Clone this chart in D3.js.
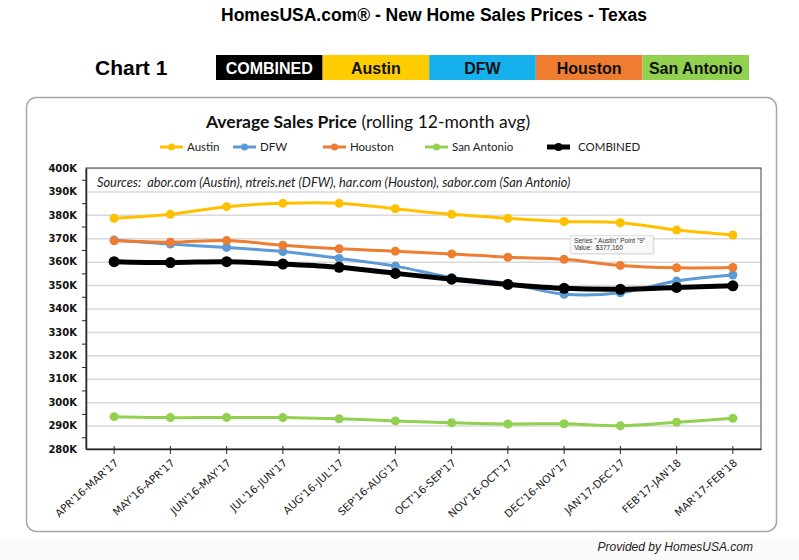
<!DOCTYPE html>
<html lang="en">
<head>
    <meta charset="UTF-8">
    <title>HomesUSA.com - New Home Sales Prices - Texas</title>
    <script src="https://d3js.org/d3.v7.min.js"></script>
    <style>
        body { margin: 0; background: #fff; }
        svg { display: block; }
        .grid line { stroke: #d9d9d9; stroke-width: 1.5; }
        .grid path { display: none; }
        .axis path, .axis line { stroke: #262626; }
        .y-labels text { font: bold 10px "DejaVu Sans", Verdana, sans-serif; fill: #111; }
        .x-labels text { font: 10.5px "DejaVu Sans", Verdana, sans-serif; fill: #222; }
        .legend text { font: 11.5px Lato, "Open Sans", sans-serif; fill: #222; }
        .series path { fill: none; }
    </style>
</head>
<body>
<svg width="799" height="560"></svg>
<script>
    const categories = ["APR'16-MAR'17", "MAY'16-APR'17", "JUN'16-MAY'17", "JUL'16-JUN'17",
        "AUG'16-JUL'17", "SEP'16-AUG'17", "OCT'16-SEP'17", "NOV'16-OCT'17",
        "DEC'16-NOV'17", "JAN'17-DEC'17", "FEB'17-JAN'18", "MAR'17-FEB'18"];

    const austin     = [378500, 380200, 383500, 384900, 384900, 382600, 380200, 378500, 377160, 376600, 373500, 371400];
    const dfw        = [369200, 367500, 366100, 364300, 361400, 358100, 353200, 350700, 346100, 346700, 351700, 354300];
    const houston    = [368900, 368300, 369000, 367000, 365500, 364500, 363300, 361900, 361000, 358400, 357400, 357500];
    const sanAntonio = [293800, 293400, 293500, 293400, 292900, 292000, 291200, 290700, 290800, 289900, 291400, 293100];
    const combined   = [360000, 359600, 360000, 359000, 357600, 355000, 352500, 350300, 348600, 348200, 349000, 349700];

    const yTicks = d3.range(280000, 400001, 10000);
    const yMinorTicks = d3.range(285000, 400000, 10000);

    const seriesNames = ["Austin", "DFW", "Houston", "San Antonio", "COMBINED"];
    const seriesData = [austin, dfw, houston, sanAntonio, combined];
    const lineColors = ["#ffc000", "#5b9bd5", "#ed7d31", "#92d050", "#000000"];

    // header strip
    const stripNames = ["COMBINED", "Austin", "DFW", "Houston", "San Antonio"];
    const stripColors = ["#000000", "#ffcc00", "#16b0ec", "#ee7d31", "#92d050"];
    const stripText = ["#ffffff", "#111111", "#111111", "#111111", "#111111"];

    const svg = d3.select("svg");

    svg.append("rect")
        .attr("x", 0).attr("y", 538).attr("width", 799).attr("height", 22)
        .attr("fill", "#fafafa");

    svg.append("text")
        .attr("x", 434).attr("y", 21)
        .attr("text-anchor", "middle")
        .style("font", "bold 17.5px 'Liberation Sans', Arial, sans-serif")
        .text("HomesUSA.com® - New Home Sales Prices - Texas");

    svg.append("text")
        .attr("x", 95).attr("y", 75)
        .style("font", "bold 21px 'Liberation Sans', Arial, sans-serif")
        .text("Chart 1");

    const strip = d3.scaleBand().domain(stripNames).range([216, 749]);

    const cells = svg.append("g").selectAll("g")
        .data(stripNames)
        .join("g")
        .attr("transform", d => `translate(${strip(d)},55)`);

    cells.append("rect")
        .attr("width", strip.bandwidth())
        .attr("height", 25)
        .attr("fill", (d, i) => stripColors[i]);

    cells.append("text")
        .attr("x", strip.bandwidth() / 2)
        .attr("y", 19)
        .attr("text-anchor", "middle")
        .attr("fill", (d, i) => stripText[i])
        .style("font", "bold 16px 'Liberation Sans', Arial, sans-serif")
        .text(d => d);

    // chart frame
    svg.append("rect")
        .attr("x", 26.5).attr("y", 97.5)
        .attr("width", 750).attr("height", 434)
        .attr("rx", 10)
        .attr("fill", "#fff")
        .attr("stroke", "#a6a6a6")
        .attr("stroke-width", 1.5);

    const title = svg.append("text")
        .attr("x", 368).attr("y", 128)
        .attr("text-anchor", "middle")
        .style("font", "17.5px Lato, 'Open Sans', sans-serif")
        .attr("fill", "#111");
    title.append("tspan").attr("font-weight", "bold").text("Average Sales Price");
    title.append("tspan").text(" (rolling 12-month avg)");

    // plot area
    const plotLeft = 86, plotRight = 761, plotTop = 168, plotBottom = 449;

    const x = d3.scaleBand().domain(categories).range([plotLeft, plotRight]);
    const y = d3.scaleLinear().domain([280000, 400000]).range([plotBottom, plotTop]);
    const cx = d => x(d) + x.bandwidth() / 2;

    svg.append("g")
        .attr("class", "grid")
        .attr("transform", `translate(${plotLeft},0)`)
        .call(d3.axisLeft(y).tickValues(yTicks.slice(1)).tickSize(-(plotRight - plotLeft)).tickFormat(""));

    svg.append("rect")
        .attr("x", plotLeft).attr("y", plotTop)
        .attr("width", plotRight - plotLeft).attr("height", plotBottom - plotTop)
        .attr("fill", "none")
        .attr("stroke", "#404040")
        .attr("stroke-width", 1);

    svg.append("g")
        .attr("class", "axis y-labels")
        .attr("transform", `translate(${plotLeft},0)`)
        .call(d3.axisLeft(y).tickValues(yTicks).tickSize(0).tickPadding(9)
            .tickFormat(d => d / 1000 + "K"))
        .call(g => g.select(".domain").attr("stroke-width", 1.5));

    svg.append("g")
        .attr("class", "axis")
        .attr("transform", `translate(${plotLeft},0)`)
        .call(d3.axisLeft(y).tickValues(yMinorTicks).tickSize(4).tickSizeOuter(0).tickFormat(""))
        .call(g => g.select(".domain").remove());

    const xAxis = svg.append("g")
        .attr("class", "axis x-labels")
        .attr("transform", `translate(0,${plotBottom})`)
        .call(d3.axisBottom(x).tickSize(5).tickSizeOuter(0).tickPadding(4))
        .call(g => g.select(".domain").attr("stroke-width", 1.5));
    xAxis.selectAll(".tick line").attr("y1", -3);
    xAxis.selectAll(".tick text")
        .attr("text-anchor", "end")
        .attr("dy", 0)
        .attr("transform", "translate(-1,8) rotate(-42)");

    svg.append("text")
        .attr("x", 97).attr("y", 187)
        .style("font", "italic 12.8px Lato, 'Open Sans', sans-serif")
        .attr("fill", "#222")
        .attr("xml:space", "preserve")
        .text("Sources:  abor.com (Austin), ntreis.net (DFW), har.com (Houston), sabor.com (San Antonio)");

    // series
    const line = d3.line()
        .x((d, i) => cx(categories[i]))
        .y(d => y(d))
        .curve(d3.curveCatmullRom);

    const series = svg.append("g").attr("class", "series")
        .selectAll("g")
        .data(seriesData)
        .join("g");

    series.append("path")
        .attr("d", d => line(d))
        .attr("stroke", (d, i) => lineColors[i])
        .attr("stroke-width", (d, i) => i === 4 ? 5 : 3);

    series.selectAll("circle")
        .data((d, i) => d.map(v => ({v, i})))
        .join("circle")
        .attr("cx", (d, j) => cx(categories[j]))
        .attr("cy", d => y(d.v))
        .attr("r", d => d.i === 4 ? 5.5 : 4.5)
        .attr("fill", d => lineColors[d.i]);

    // legend
    const legendX = [160, 233, 323, 425, 547];
    const legend = svg.append("g").attr("class", "legend")
        .selectAll("g")
        .data(seriesNames)
        .join("g")
        .attr("transform", (d, i) => `translate(${legendX[i]},147)`);

    legend.append("line")
        .attr("x1", 0).attr("x2", 23)
        .attr("stroke", (d, i) => lineColors[i])
        .attr("stroke-width", (d, i) => i === 4 ? 5 : 3);
    legend.append("circle")
        .attr("cx", 11.5)
        .attr("r", (d, i) => i === 4 ? 4 : 3.5)
        .attr("fill", (d, i) => lineColors[i]);
    legend.append("text")
        .attr("x", (d, i) => i === 4 ? 31 : 27)
        .attr("dy", "0.35em")
        .text(d => d);

    // hover tip left in the screenshot
    const tipX = cx(categories[8]) + 6, tipY = y(austin[8]) + 14;
    const tip = svg.append("g").attr("transform", `translate(${tipX},${tipY})`);
    tip.append("rect")
        .attr("x", 1.5).attr("y", 1.5).attr("width", 83).attr("height", 18)
        .attr("fill", "#000").attr("opacity", 0.08);
    tip.append("rect")
        .attr("width", 83).attr("height", 18)
        .attr("fill", "#f8f8f8").attr("stroke", "#d0d0d0").attr("stroke-width", 0.6);
    tip.append("text")
        .attr("x", 4).attr("y", 7.5)
        .style("font", "6.5px 'Liberation Sans', Arial, sans-serif").attr("fill", "#333")
        .text("Series \" Austin\" Point \"9\"");
    tip.append("text")
        .attr("x", 4).attr("y", 15)
        .style("font", "6.5px 'Liberation Sans', Arial, sans-serif").attr("fill", "#333")
        .attr("xml:space", "preserve")
        .text("Value:  $" + d3.format(",")(austin[8]));

    svg.append("text")
        .attr("x", 753).attr("y", 551)
        .attr("text-anchor", "end")
        .style("font", "italic 12px 'Liberation Sans', Arial, sans-serif")
        .attr("fill", "#222")
        .text("Provided by HomesUSA.com");
</script>
</body>
</html>
